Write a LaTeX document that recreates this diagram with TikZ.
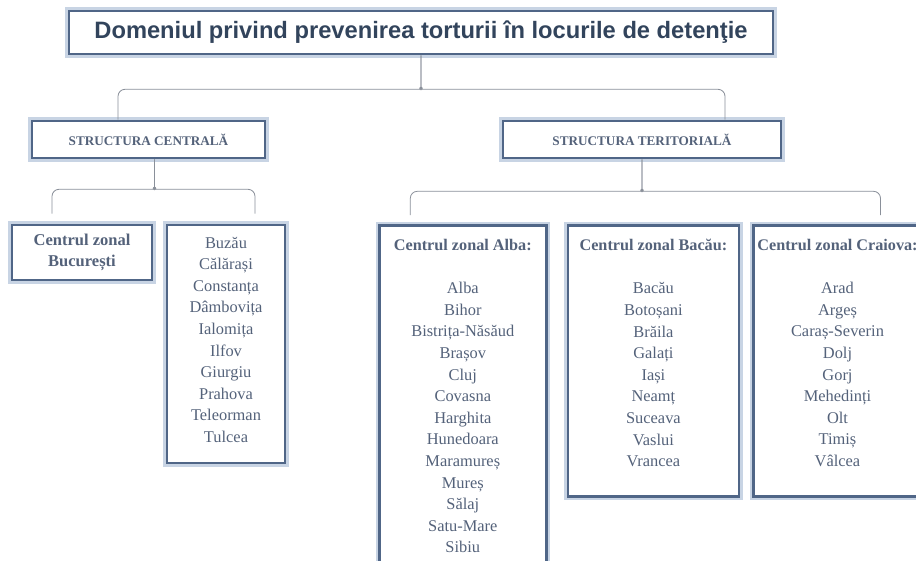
\documentclass[tikz,border=0pt]{standalone}
\usepackage{fontspec}
\setmainfont{Liberation Serif}
\newfontfamily\titlefont{Liberation Sans}
\usetikzlibrary{positioning}

\definecolor{boxline}{RGB}{80,102,135}
\definecolor{boxglow}{RGB}{200,212,228}
\definecolor{textblue}{RGB}{84,98,122}
\definecolor{titleblue}{RGB}{50,68,92}
\definecolor{braceline}{RGB}{138,144,154}

\newcommand{\zonehead}[1]{{\bfseries\fontsize{16.2}{21.6}\selectfont #1}}

\begin{document}
\begin{tikzpicture}[x=1pt, y=1pt,
    frame/.style={rectangle, draw=boxline, line width=2.6pt, fill=white,
      preaction={draw=boxglow, line width=7.5pt}, inner sep=0pt},
    entries/.style={align=center, inner sep=0pt, text=textblue,
      font=\fontsize{16.4}{21.6}\selectfont},
    head/.style={font=\bfseries\fontsize{16.5}{21.6}\selectfont},
    brace/.style={draw=braceline, line width=0.8pt, rounded corners=7pt}]

  \useasboundingbox (0,0) rectangle (916,-560);
  \fill[white] (0,0) rectangle (916,-560);
  \clip (0,0) rectangle (916,-560);

  \node[frame, minimum width=704pt, minimum height=43pt, text=titleblue,
    font=\titlefont\bfseries\fontsize{23.7}{28}\selectfont] (title) at (421,-32.5)
    {Domeniul privind prevenirea torturii în locurile de detenţie};

  \node[frame, minimum width=233pt, minimum height=37pt, text=textblue,
    font=\bfseries\fontsize{13.2}{15}\selectfont] (central) at (148.5,-139.5)
    {STRUCTURA CENTRALĂ};
  \node[frame, minimum width=278pt, minimum height=37pt, text=textblue,
    font=\bfseries\fontsize{13.2}{15}\selectfont] (territorial) at (642,-139.5)
    {STRUCTURA TERITORIALĂ};

  % structura centrala
  \node[frame, minimum width=140pt, minimum height=55pt, align=center,
    text=textblue, head] (buc) at (82,-252.5) {Centrul zonal\\ București};
  \node[frame, minimum width=118pt, minimum height=238pt] (buclist) at (226,-344) {};
  \node[entries, below=13pt of buclist.north] (buctext)
    {Buzău\\ Călărași\\ Constanța\\ Dâmbovița\\ Ialomița\\ Ilfov\\ Giurgiu\\
     Prahova\\ Teleorman\\ Tulcea};

  % structura teritoriala
  \node[frame, minimum width=167pt, minimum height=360pt, anchor=north west] (alba) at (378,-224) {};
  \node[frame, minimum width=171pt, minimum height=271pt,
    right=19pt of alba.north east, anchor=north west] (bacau) {};
  \node[frame, minimum width=171pt, minimum height=271pt,
    right=12pt of bacau.north east, anchor=north west] (craiova) {};

  \node[entries, below=15pt of alba.north] (albatext)
    {\zonehead{Centrul zonal Alba:}\\[21.6pt]
     Alba\\ Bihor\\ Bistrița-Năsăud\\ Brașov\\ Cluj\\ Covasna\\ Harghita\\
     Hunedoara\\ Maramureș\\ Mureș\\ Sălaj\\ Satu-Mare\\ Sibiu};
  \node[entries, below=15pt of bacau.north] (bacautext)
    {\zonehead{Centrul zonal Bacău:}\\[21.6pt]
     Bacău\\ Botoșani\\ Brăila\\ Galați\\ Iași\\ Neamț\\ Suceava\\ Vaslui\\ Vrancea};
  \node[entries, below=15pt of craiova.north, xshift=-1.5pt] (craiovatext)
    {\zonehead{Centrul zonal Craiova:}\\[21.6pt]
     Arad\\ Argeș\\ Caraș-Severin\\ Dolj\\ Gorj\\ Mehedinți\\ Olt\\ Timiș\\ Vâlcea};

  % acolade
  \coordinate (cfoot) at ([xshift=-30.5pt]central.north);
  \coordinate (tfoot) at ([xshift=83pt]territorial.north);
  \coordinate (bfoot) at ([xshift=-30pt,yshift=10pt]buc.north);
  \coordinate (lfoot) at ([xshift=29pt,yshift=10pt]buclist.north);
  \coordinate (afoot) at ([xshift=-52.5pt,yshift=9pt]alba.north);
  \coordinate (kfoot) at ([xshift=41.5pt,yshift=9pt]craiova.north);

  \draw[brace] (title.south) -- ++(0,-26) to[out=-90,in=0] ++(-7,-8) -| (cfoot);
  \draw[brace] (title.south) -- ++(0,-26) to[out=-90,in=180] ++(7,-8) -| (tfoot);
  \draw[brace] ([xshift=6pt]central.south) -- ++(0,-22) to[out=-90,in=0] ++(-7,-8) -| (bfoot);
  \draw[brace] ([xshift=6pt]central.south) -- ++(0,-22) to[out=-90,in=180] ++(7,-8) -| (lfoot);
  \draw[brace] (territorial.south) -- ++(0,-24) to[out=-90,in=0] ++(-7,-8) -| (afoot);
  \draw[brace] (territorial.south) -- ++(0,-24) to[out=-90,in=180] ++(7,-8) -| (kfoot);

\end{tikzpicture}
\end{document}
